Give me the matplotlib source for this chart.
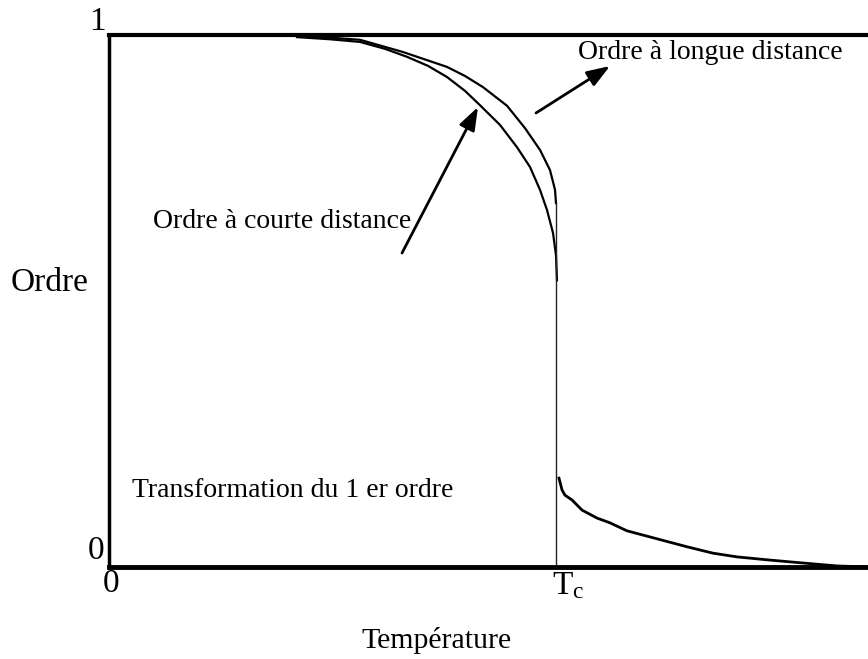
import matplotlib
matplotlib.use("Agg")
import matplotlib.pyplot as plt
import numpy as np

plt.rcParams['font.family'] = ['Liberation Serif', 'DejaVu Serif']
plt.rcParams['mathtext.fontset'] = 'custom'
plt.rcParams['mathtext.rm'] = 'Liberation Serif'
plt.rcParams['mathtext.it'] = 'Liberation Serif'

# Temperature normalised to Tc = 1
short_T = [0.4206, 0.4944, 0.5615, 0.6174, 0.6667, 0.7136, 0.7562, 0.7964, 0.8300,
           0.8747, 0.9128, 0.9418, 0.9642, 0.9799, 0.9933, 1.0, 1.0022]
short_order = [0.996, 0.992, 0.987, 0.974, 0.959, 0.942, 0.921, 0.895, 0.868,
               0.831, 0.789, 0.752, 0.709, 0.671, 0.628, 0.586, 0.539]

long_T = [0.4206, 0.4944, 0.5615, 0.6577, 0.7562, 0.7964, 0.8367, 0.8904, 0.9306,
          0.9642, 0.9866, 0.9978, 1.0]
long_order = [0.998, 0.995, 0.991, 0.968, 0.940, 0.923, 0.902, 0.867, 0.825,
              0.784, 0.746, 0.709, 0.684]

tail_T = [1.0067, 1.0134, 1.0201, 1.0358, 1.0582, 1.0917, 1.1208, 1.1588, 1.2170,
          1.2931, 1.3512, 1.4049, 1.4787, 1.5526, 1.6286, 1.698]
tail_order = [0.167, 0.145, 0.135, 0.126, 0.107, 0.092, 0.083, 0.068, 0.055,
              0.038, 0.026, 0.019, 0.013, 0.0075, 0.002, 0.0]

Tc = 1.0
x_max = 1.698

W, H = 868, 659
fig = plt.figure(figsize=(W / 100, H / 100), dpi=100)
ax = fig.add_axes([109 / W, (H - 567) / H, (W - 109) / W, (567 - 35) / H])
ax.set_xlim(0, x_max)
ax.set_ylim(0, 1)
ax.set_xticks([])
ax.set_yticks([])
ax.spines['right'].set_visible(False)
ax.spines['top'].set_linewidth(3)
ax.spines['bottom'].set_linewidth(3.5)
ax.spines['left'].set_linewidth(2.5)
for s in ax.spines.values():
    s.set_color('black')

ax.plot(short_T, short_order, color='black', lw=1.6, clip_on=False)
ax.plot(long_T, long_order, color='black', lw=1.6, clip_on=False)
ax.plot([Tc, Tc], [0, long_order[-1]], color='#222222', lw=1.0)
ax.plot(tail_T, tail_order, color='black', lw=2.0, clip_on=False)

arrow = dict(arrowstyle='-|>,head_length=0.5,head_width=0.18', color='black', lw=2.0,
             mutation_scale=28, shrinkA=0, shrinkB=0)
ax.annotate('', xy=(1.1208, 0.9417), xytext=(0.9553, 0.8534), arrowprops=arrow)
ax.annotate('', xy=(0.8255, 0.8647), xytext=(0.6555, 0.5902), arrowprops=arrow)

fs = 20
ax.text(1.0492, 0.968, 'Ordre à longue distance', fontsize=fs, ha='left', va='center')
ax.text(0.0984, 0.6485, 'Ordre à courte distance', fontsize=fs, ha='left', va='center')
ax.text(0.0515, 0.1447, 'Transformation du 1 er ordre', fontsize=fs, ha='left', va='center')

def ftext(px, py, s, **kw):
    fig.text(px / W, 1 - py / H, s, **kw)

ftext(97, 22, '1', fontsize=24, ha='center', va='center')
ftext(96, 551, '0', fontsize=24, ha='center', va='center')
ftext(111, 584, '0', fontsize=24, ha='center', va='center')
ftext(552, 586, r'T$_{\mathrm{c}}$', fontsize=24, ha='left', va='center')
ftext(437, 640, 'Température', fontsize=21.5, ha='center', va='center')
ftext(50, 283, 'Ordre', fontsize=24, ha='center', va='center')

fig.savefig('out.png', dpi=100, facecolor='white')
